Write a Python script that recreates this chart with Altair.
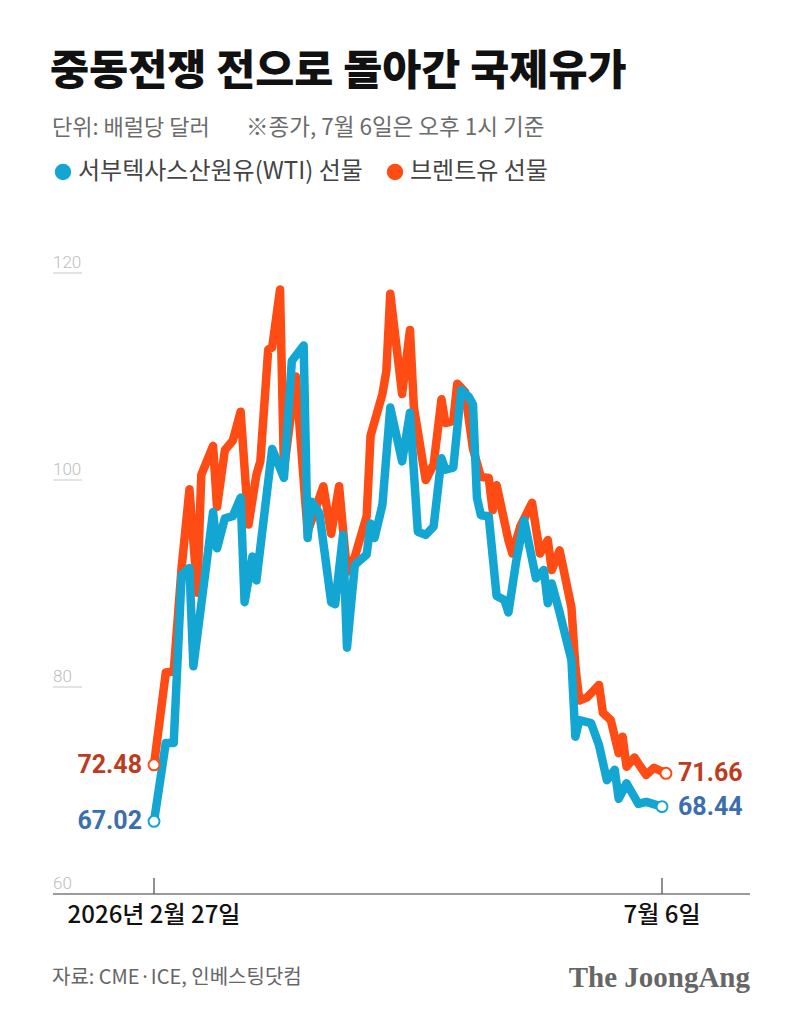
import altair as alt
import pandas as pd

# ---- data ----
WTI_DAYS = [0, 3, 5, 7, 9, 10, 15, 16, 18, 20, 22, 23, 25, 26, 30, 33, 35, 38, 39, 40,
            42, 45, 46, 48, 49, 51, 54, 55, 56, 58, 60, 63, 65, 67, 69, 71, 73, 74, 76, 78,
            80, 81, 82, 83, 85, 87, 89, 90, 92, 94, 97, 99, 100, 101, 103, 106, 107, 108, 111, 113,
            115, 117, 118, 120, 123, 125, 129]
WTI_PRICES = [67.02, 74.6, 74.6, 90.8, 91.5, 82.0, 96.9, 93.4, 96.3, 96.5,
              98.3, 88.2, 92.6, 90.3, 103.0, 100.2, 111.5, 113.0, 94.4, 97.9,
              96.8, 88.2, 88.0, 94.7, 83.8, 91.8, 92.8, 95.8, 94.4, 97.6,
              107.0, 101.8, 106.5, 95.0, 94.7, 95.5, 102.1, 101.0, 101.2, 108.7,
              108.0, 107.3, 98.3, 96.6, 96.5, 88.8, 88.4, 87.2, 92.2, 96.1,
              90.5, 91.3, 88.1, 90.0, 87.2, 82.6, 75.2, 76.8, 76.5, 74.4,
              71.0, 72.0, 69.2, 70.7, 68.7, 68.9, 68.44]

BRENT_DAYS = [0, 3, 5, 7, 9, 11, 12, 15, 16, 18, 20, 22, 24, 26, 27, 29, 30, 32, 33, 36,
              39, 43, 45, 47, 49, 51, 54, 55, 58, 59, 60, 63, 65, 66, 69, 71, 73, 74, 76, 77,
              79, 81, 83, 85, 86, 87, 90, 91, 93, 96, 98, 100, 101, 103, 106, 107, 108, 110, 113, 114,
              116, 118, 119, 120, 122, 123, 125, 127, 130]
BRENT_PRICES = [72.48, 81.4, 81.5, 91.5, 99.1, 89.1, 100.5, 103.3, 97.4, 102.9,
                103.8, 106.6, 95.7, 100.5, 101.8, 112.6, 112.8, 118.4, 101.0, 110.0,
                95.0, 99.4, 94.8, 99.4, 91.1, 92.6, 96.5, 104.3, 108.3, 110.5,
                118.0, 108.3, 114.5, 107.0, 100.0, 101.5, 107.8, 105.5, 105.7, 109.3,
                108.5, 103.0, 100.3, 100.2, 97.1, 99.5, 94.2, 92.9, 95.5, 97.8,
                92.9, 94.2, 91.3, 93.2, 87.7, 82.0, 78.7, 79.0, 80.2, 77.5,
                76.8, 73.6, 75.2, 72.3, 73.2, 72.6, 71.5, 72.2, 71.66]

Y_TICKS = [60, 80, 100, 120]
X_TICK_DAYS = [0, 129]
X_TICK_LABELS = ["2026년 2월 27일", "7월 6일"]

TITLE = "중동전쟁 전으로 돌아간 국제유가"
UNIT = "단위: 배럴당 달러"
NOTE = "※종가, 7월 6일은 오후 1시 기준"
LEGEND_WTI = "서부텍사스산원유(WTI) 선물"
LEGEND_BRENT = "브렌트유 선물"
SOURCE = "자료: CME·ICE, 인베스팅닷컴"
BRAND = "The JoongAng"

# ---- styles ----
WTI_COLOR = "#13a6d3"
BRENT_COLOR = "#ff4b14"
WTI_TEXT = "#3a6fab"
BRENT_TEXT = "#bc3d1d"
KR = "Noto Sans CJK KR"
LINE_W = 8.5

W, H = 697, 621
XS = alt.Scale(domain=[-25.65, 151.35], nice=False, zero=False)
YS = alt.Scale(domain=[60, 120], nice=False, zero=False)

wti = pd.DataFrame({"day": WTI_DAYS, "price": WTI_PRICES})
brent = pd.DataFrame({"day": BRENT_DAYS, "price": BRENT_PRICES})
ends_wti = wti.iloc[[0, -1]].copy()
ends_brent = brent.iloc[[0, -1]].copy()
ends_wti["label"] = ends_wti["price"].map(lambda v: f"{v:.2f}")
ends_brent["label"] = ends_brent["price"].map(lambda v: f"{v:.2f}")

X = lambda f="day": alt.X(f"{f}:Q", scale=XS, axis=None)
Y = lambda f="price": alt.Y(f"{f}:Q", scale=YS, axis=None)

one = pd.DataFrame({"a": [0]})
ticks = pd.DataFrame({"v": Y_TICKS})
grid = pd.DataFrame({"v": Y_TICKS[1:]})
xt = pd.DataFrame({"day": X_TICK_DAYS, "lab": X_TICK_LABELS})

gridlines = alt.Chart(grid).mark_rule(color="#d2d2d2", strokeWidth=1.2).encode(
    x=alt.value(0), x2=alt.value(29), y=Y("v"))
ylabels = alt.Chart(ticks).mark_text(
    align="left", baseline="middle", dy=-10, font="Roboto", fontWeight=300,
    fontSize=17, color="#bdbdbd").encode(x=alt.value(0), y=Y("v"), text="v:Q")

axis_line = alt.Chart(one).mark_rule(color="#7a7a7a", strokeWidth=1.3).encode(
    x=alt.value(0), x2=alt.value(W), y=alt.value(H))
xticks = alt.Chart(xt).mark_rule(color="#555555", strokeWidth=1.3).encode(
    x=X(), y=alt.value(H - 16), y2=alt.value(H))
xlabels = alt.Chart(xt).mark_text(
    baseline="middle", font=KR, fontSize=24, fontWeight=500, color="#111111").encode(
    x=X(), y=alt.value(H + 22), text="lab:N")

line_brent = alt.Chart(brent).mark_line(
    color=BRENT_COLOR, strokeWidth=LINE_W, strokeJoin="round", strokeCap="round").encode(
    x=X(), y=Y(), order="day:Q")
line_wti = alt.Chart(wti).mark_line(
    color=WTI_COLOR, strokeWidth=LINE_W, strokeJoin="round", strokeCap="round").encode(
    x=X(), y=Y(), order="day:Q")

dots_brent = alt.Chart(ends_brent).mark_point(
    shape="circle", filled=True, fill="white", stroke=BRENT_COLOR, strokeWidth=2,
    size=120, opacity=1).encode(x=X(), y=Y())
dots_wti = alt.Chart(ends_wti).mark_point(
    shape="circle", filled=True, fill="white", stroke=WTI_COLOR, strokeWidth=2,
    size=120, opacity=1).encode(x=X(), y=Y())

def end_labels(df, color):
    first = alt.Chart(df.iloc[[0]]).mark_text(
        align="right", baseline="middle", dx=-12, font="Roboto", fontWeight="bold",
        fontSize=25, color=color).encode(x=X(), y=Y(), text="label:N")
    last = alt.Chart(df.iloc[[-1]]).mark_text(
        align="left", baseline="middle", font="Roboto", fontWeight="bold",
        fontSize=25, color=color).encode(x=alt.value(625), y=Y(), text="label:N")
    return first + last

def static_text(txt, x, y, size, color, weight="normal", align="left", font=KR):
    return alt.Chart(one).mark_text(
        text=txt, align=align, baseline="middle", font=font, fontSize=size,
        fontWeight=weight, color=color).encode(x=alt.value(x), y=alt.value(y))

def legend_dot(x, y, color):
    return alt.Chart(one).mark_circle(color=color, size=270, opacity=1).encode(
        x=alt.value(x), y=alt.value(y))

title = static_text(TITLE, -3, -201, 42.5, "#111111", weight=900)
unit = static_text(UNIT, -1, -145, 22, "#6b6b6b")
note = static_text(NOTE, 193, -145, 22.5, "#6b6b6b")
leg1 = legend_dot(10, -101, WTI_COLOR) + static_text(LEGEND_WTI, 25, -101, 24, "#444444")
leg2 = legend_dot(342, -101, BRENT_COLOR) + static_text(LEGEND_BRENT, 357, -101, 24, "#444444")
source = static_text(SOURCE, -1, 705, 20, "#666666")
brand = static_text(BRAND, W, 705, 29, "#666666", weight="bold", align="right",
                    font="Liberation Serif")

chart = alt.layer(
    gridlines, ylabels, axis_line, xticks, xlabels,
    line_brent, line_wti, dots_brent, dots_wti,
    end_labels(ends_brent, BRENT_TEXT), end_labels(ends_wti, WTI_TEXT),
    title, unit, note, leg1, leg2, source, brand,
).properties(
    width=W, height=H,
    padding={"left": 53, "top": 273, "right": 50, "bottom": 133},
    autosize=alt.AutoSizeParams(type="none"),
    background="white",
).configure_view(stroke=None)

chart.save("out.html", embed_options={"renderer": "svg", "actions": False})
